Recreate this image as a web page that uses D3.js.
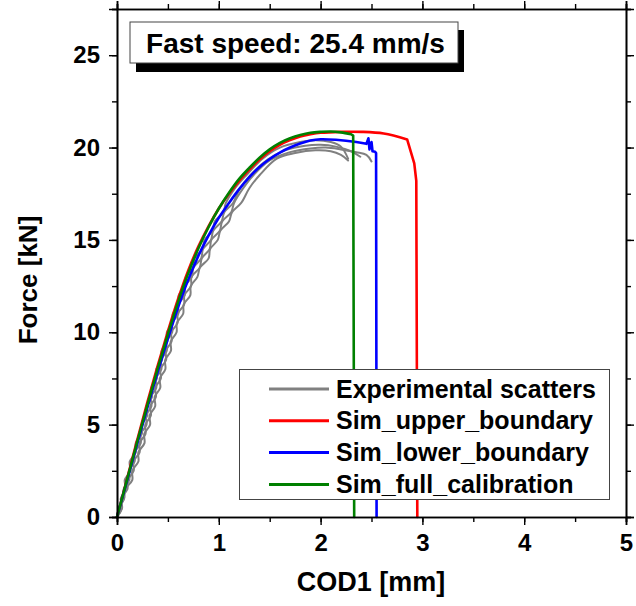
<!DOCTYPE html>
<html><head><meta charset="utf-8">
<script src="https://cdn.jsdelivr.net/npm/d3@7"></script>
<style>body{margin:0;background:#fff}svg{display:block}text{font-family:"Liberation Sans",Arial,Helvetica,sans-serif;font-weight:bold}</style>
</head><body><svg id="c" width="636" height="606"></svg>
<script>
// ---- data ----
const titleText = "Fast speed: 25.4 mm/s";
const xLabel = "COD1 [mm]";
const yLabel = "Force [kN]";
const xTicks = [0,1,2,3,4,5];
const yTicks = [0,5,10,15,20,25];
const seriesNames = ["Experimental scatters","Sim_upper_boundary","Sim_lower_boundary","Sim_full_calibration"];
const seriesColors = ["#808080","#ff0000","#0000ff","#008000"];

// experimental curves [COD1 mm, Force kN]
const expA = [[0,0],[0.049,0.5],[0.038,1],[0.087,1.5],[0.076,2],[0.131,2.5],[0.125,3],[0.185,3.5],[0.184,4],[0.244,4.5],[0.243,5],[0.297,5.5],[0.29,6],[0.344,6.5],[0.337,7],[0.392,7.5],[0.386,8],[0.442,8.5],[0.438,9],[0.494,9.5],[0.49,10],[0.549,10.5],[0.548,11],[0.607,11.5],[0.606,12],[0.672,12.5],[0.677,13],[0.749,13.5],[0.76,14],[0.84,14.5],[0.86,15],[0.94,15.5],[0.96,16],[1.045,16.5],[1.07,17],[1.16,17.8],[1.27,18.5],[1.43,19.4],[1.6,20.0],[1.8,20.3],[1.95,20.4],[2.1,20.3],[2.2,20.05],[2.27,19.4]];
const expB = [[0,0],[0.02,0.5],[0.069,1],[0.065,1.5],[0.121,2],[0.117,2.5],[0.173,3],[0.173,3.5],[0.233,4],[0.232,4.5],[0.29,5],[0.284,5.5],[0.338,6],[0.332,6.5],[0.386,7],[0.381,7.5],[0.436,8],[0.433,8.5],[0.489,9],[0.486,9.5],[0.542,10],[0.542,10.5],[0.602,11],[0.603,11.5],[0.664,12],[0.67,12.5],[0.735,13],[0.751,13.5],[0.827,14],[0.845,14.5],[0.923,15],[0.945,15.5],[1.027,16],[1.054,16.5],[1.14,17],[1.2,17.7],[1.31,18.5],[1.48,19.35],[1.65,19.85],[1.85,20.1],[2.0,20.15],[2.15,20.05],[2.3,19.8],[2.39,19.5]];
const expC = [[0,0],[0.05,0.5],[0.039,1],[0.102,1.5],[0.105,2],[0.164,2.5],[0.162,3],[0.222,3.5],[0.221,4],[0.28,4.5],[0.278,5],[0.333,5.5],[0.327,6],[0.382,6.5],[0.376,7],[0.431,7.5],[0.425,8],[0.482,8.5],[0.479,9],[0.536,9.5],[0.533,10],[0.595,10.5],[0.596,11],[0.659,11.5],[0.662,12],[0.727,12.5],[0.732,13],[0.813,13.5],[0.833,14],[0.91,14.5],[0.927,15],[1.01,15.5],[1.033,16],[1.122,16.5],[1.15,17],[1.24,17.8],[1.34,18.5],[1.5,19.3],[1.7,19.75],[1.9,19.95],[2.05,20.0],[2.2,19.9],[2.35,19.75],[2.45,19.6],[2.5,19.25]];
const expD = [[0,0],[0.02,0.5],[0.07,1],[0.08,1.5],[0.15,2],[0.15,2.5],[0.21,3],[0.21,3.5],[0.27,4],[0.268,4.5],[0.325,5],[0.32,5.5],[0.375,6],[0.37,6.5],[0.425,7],[0.42,7.5],[0.475,8],[0.473,8.5],[0.53,9],[0.528,9.5],[0.585,10],[0.588,10.5],[0.65,11],[0.655,11.5],[0.72,12],[0.725,12.5],[0.79,13],[0.815,13.5],[0.9,14],[0.915,14.5],[0.99,15],[1.015,15.5],[1.1,16],[1.13,16.5],[1.22,17],[1.3,17.8],[1.4,18.5],[1.57,19.4],[1.75,19.7],[1.95,19.85],[2.1,19.8],[2.2,19.6],[2.27,19.3]];

// simulations: smooth loading branch + failure branch
const simUpperRise = [[0,0],[0.1,2.1],[0.2,4.2],[0.3,6.25],[0.4,8.2],[0.5,10.05],[0.6,11.8],[0.7,13.35],[0.8,14.65],[0.9,15.75],[1.0,16.7],[1.1,17.5],[1.2,18.2],[1.3,18.8],[1.4,19.35],[1.5,19.8],[1.6,20.15],[1.7,20.4],[1.8,20.6],[1.9,20.72],[2.0,20.8],[2.2,20.85],[2.4,20.85],[2.62,20.76],[2.85,20.44]];
const simUpperFail = [[2.92,19.14],[2.94,18.2],[2.95,0]];
const simLowerRise = [[0,0],[0.1,2.0],[0.2,4.0],[0.3,5.95],[0.4,7.85],[0.5,9.65],[0.6,11.35],[0.7,12.85],[0.8,14.15],[0.9,15.25],[1.0,16.2],[1.1,17.0],[1.2,17.75],[1.3,18.4],[1.4,18.95],[1.5,19.38],[1.6,19.73],[1.7,20.0],[1.8,20.22],[1.9,20.38],[2.0,20.45],[2.15,20.42],[2.35,20.3],[2.45,20.2]];
const simLowerFail = [[2.47,20.5],[2.48,19.9],[2.5,20.3],[2.51,19.8],[2.535,19.77],[2.545,19.7],[2.55,0]];
const simFullRise = [[0,0],[0.1,2.05],[0.2,4.1],[0.3,6.1],[0.4,8.05],[0.5,9.9],[0.6,11.65],[0.7,13.2],[0.8,14.55],[0.9,15.7],[1.0,16.7],[1.1,17.55],[1.2,18.3],[1.3,18.9],[1.4,19.45],[1.5,19.9],[1.6,20.25],[1.7,20.5],[1.8,20.68],[1.9,20.8],[2.0,20.85],[2.1,20.87],[2.2,20.82],[2.3,20.72]];
const simFullFail = [[2.32,20.65],[2.33,0]];

// ---- chart ----
const svg = d3.select("#c");
const x = d3.scaleLinear().domain([0,5]).range([117,626]);
const y = d3.scaleLinear().domain([0,27.5]).range([517,9]);
const smooth = d3.line().x(d=>x(d[0])).y(d=>y(d[1])).curve(d3.curveCatmullRom.alpha(0.5));
function simPath(rise, fail){ return smooth(rise) + fail.map(d=>`L${x(d[0])},${y(d[1])}`).join(""); }

const curves = svg.append("g").attr("fill","none").attr("stroke-linejoin","round").attr("stroke-linecap","round");
[expA,expB,expC,expD].forEach(s=>curves.append("path").attr("d",smooth(s)).attr("stroke",seriesColors[0]).attr("stroke-width",2));
curves.append("path").attr("d",simPath(simUpperRise,simUpperFail)).attr("stroke",seriesColors[1]).attr("stroke-width",2.6);
curves.append("path").attr("d",simPath(simLowerRise,simLowerFail)).attr("stroke",seriesColors[2]).attr("stroke-width",2.6);
curves.append("path").attr("d",simPath(simFullRise,simFullFail)).attr("stroke",seriesColors[3]).attr("stroke-width",2.6);

// axes
const minorX = d3.range(0,5.01,0.5), minorY = d3.range(0,27.6,2.5);
function axisGroup(axis, tx, ty){ const g=svg.append("g").attr("transform",`translate(${tx},${ty})`).call(axis);
  g.selectAll("path.domain").attr("stroke","#000").attr("stroke-width",1.6);
  g.selectAll(".tick line").attr("stroke","#000").attr("stroke-width",1.4);
  return g;}
axisGroup(d3.axisBottom(x).tickValues(minorX).tickSize(5).tickFormat(""),0,517);
axisGroup(d3.axisTop(x).tickValues(minorX).tickSize(5).tickFormat(""),0,9);
axisGroup(d3.axisLeft(y).tickValues(minorY).tickSize(5).tickFormat(""),117,0);
axisGroup(d3.axisRight(y).tickValues(minorY).tickSize(5).tickFormat(""),626,0);
const gx = axisGroup(d3.axisBottom(x).tickValues(xTicks).tickSize(8).tickPadding(9).tickFormat(d3.format("d")),0,517);
axisGroup(d3.axisTop(x).tickValues(xTicks).tickSize(8).tickFormat(""),0,9);
const gy = axisGroup(d3.axisLeft(y).tickValues(yTicks).tickSize(8).tickPadding(9).tickFormat(d3.format("d")),117,0);
axisGroup(d3.axisRight(y).tickValues(yTicks).tickSize(8).tickFormat(""),626,0);
[gx,gy].forEach(g=>g.selectAll("text").attr("font-size",24).attr("font-weight","bold").attr("fill","#000").attr("font-family",'"Liberation Sans",Arial,sans-serif'));

// axis titles
svg.append("text").attr("x",371).attr("y",591).attr("text-anchor","middle").attr("font-size",27).text(xLabel);
svg.append("text").attr("transform","translate(37,280) rotate(-90)").attr("text-anchor","middle").attr("font-size",26).text(yLabel);

// title box
svg.append("rect").attr("x",136).attr("y",30).attr("width",328).attr("height",42).attr("fill","#000");
svg.append("rect").attr("x",130).attr("y",22).attr("width",328).attr("height",41).attr("fill","#fff").attr("stroke","#444").attr("stroke-width",1);
svg.append("text").attr("x",295.5).attr("y",53).attr("text-anchor","middle").attr("font-size",28).text(titleText);

// legend
const lg = svg.append("g");
lg.append("rect").attr("x",239.5).attr("y",369.5).attr("width",370).attr("height",130).attr("fill","#fff").attr("stroke","#444").attr("stroke-width",1);
seriesNames.forEach((n,i)=>{
  const yy = 389 + i*31.8;
  lg.append("line").attr("x1",269).attr("x2",329).attr("y1",yy).attr("y2",yy).attr("stroke",seriesColors[i]).attr("stroke-width",3);
  lg.append("text").attr("x",336).attr("y",yy+8.5).attr("font-size",25).text(n);
});
</script></body></html>
